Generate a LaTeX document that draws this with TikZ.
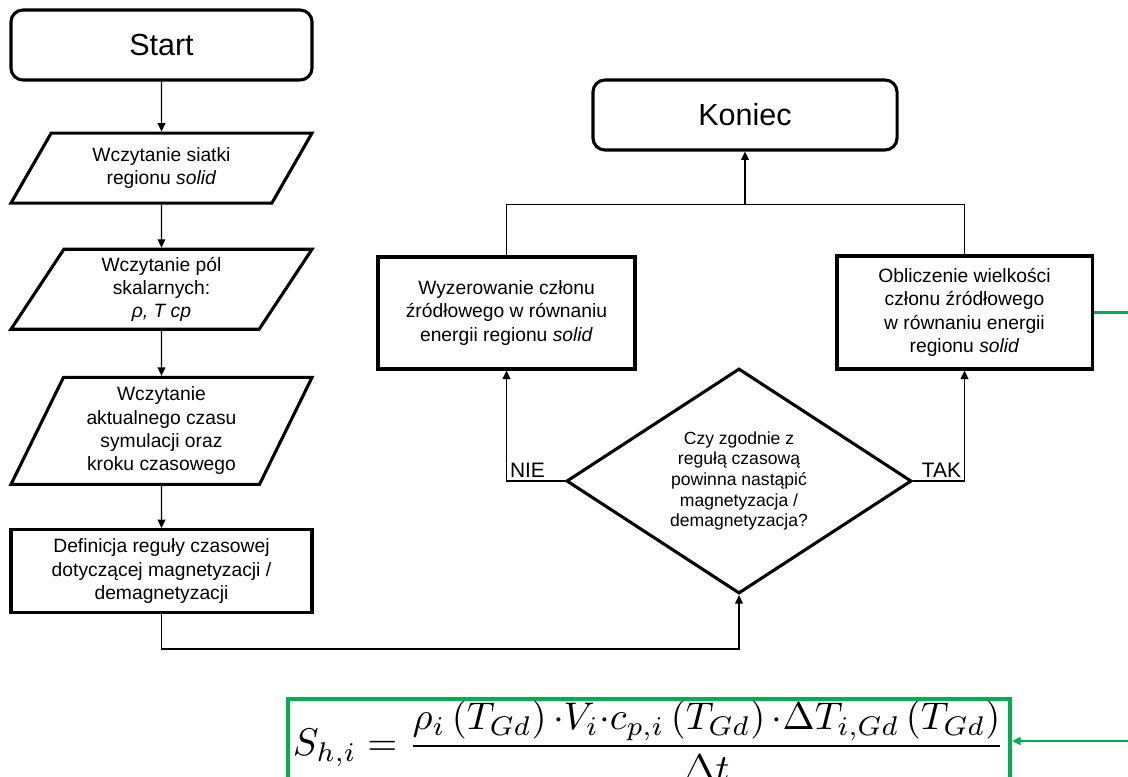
\documentclass[tikz,border=0pt]{standalone}
\usepackage[no-math]{fontspec}
\setmainfont{Liberation Sans}
\usepackage{graphicx}
\usepackage{tikz}
\usetikzlibrary{arrows.meta,positioning,shapes.geometric,calc}
\definecolor{ink}{HTML}{000000}
\definecolor{leaf}{HTML}{00B050}
\tikzset{
  termbox/.style={
    rectangle, rounded corners=0.3cm, draw=ink, line width=2.2pt,
    minimum width=7.525cm, minimum height=1.75cm, align=center,
    font=\fontsize{21.7}{26}\selectfont
  },
  iobox/.style={
    trapezium, trapezium stretches body, draw=ink, line width=2.2pt,
    minimum width=7.525cm, align=center, inner sep=2pt,
    font=\fontsize{13.7}{16.6}\selectfont
  },
  procbox/.style={
    rectangle, draw=ink, line width=2.2pt, align=center, inner sep=2pt,
    font=\fontsize{13.7}{16.6}\selectfont
  },
  decbox/.style={
    diamond, aspect=1.53, draw=ink, line width=2.2pt, align=center,
    inner sep=0pt, minimum width=8.625cm, minimum height=5.625cm,
    font=\fontsize{12.5}{14.7}\selectfont
  },
  formbox/.style={
    rectangle, draw=leaf, line width=2.8pt, inner xsep=0.125cm, inner ysep=1pt
  },
  branchlabel/.style={font=\fontsize{14.9}{17}\selectfont, inner sep=2pt},
  flow/.style={line width=1pt, draw=ink},
  flowarrow/.style={flow, -{Triangle[length=6pt,width=5.5pt]}},
  leafline/.style={line width=1.6pt, draw=leaf},
  leafarrow/.style={leafline, -{Triangle[length=6pt,width=5.5pt]}},
}

\begin{document}
\begin{tikzpicture}[x=0.025cm, y=-0.025cm]
    \useasboundingbox (0,0) rectangle (1128,776);
    % left column
    \node[termbox] (start) at (161.5,45) {Start};
    \node[iobox, below=1.25cm of start, trapezium left angle=49.4, trapezium right angle=130.6, minimum height=1.75cm] (mesh) {Wczytanie siatki\\regionu \textit{solid}};
    \node[iobox, below=1.075cm of mesh, trapezium left angle=53.1, trapezium right angle=126.9, minimum height=2cm] (fields) {Wczytanie pól\\skalarnych:\\\textit{ρ, T cp}};
    \node[iobox, below=1.125cm of fields, trapezium left angle=60.7, trapezium right angle=119.3, minimum height=2.675cm] (clock) {Wczytanie\\aktualnego czasu\\symulacji oraz\\kroku czasowego};
    \node[procbox, below=1.05cm of clock, minimum width=7.525cm, minimum height=2.075cm] (rule) {Definicja reguły czasowej\\dotyczącej magnetyzacji /\\demagnetyzacji};
    % right part
    \node[termbox, minimum width=7.6cm] (stop) at (745,115) {Koniec};
    \node[procbox, minimum width=6.425cm, minimum height=2.8cm] (zero) at (506.5,313) {Wyzerowanie członu\\źródłowego w równaniu\\energii regionu \textit{solid}};
    \node[procbox, minimum width=6.375cm, minimum height=2.825cm] (calc) at (964.5,312.5) {Obliczenie wielkości\\członu źródłowego\\w równaniu energii\\regionu \textit{solid}};
    \node[decbox] (check) at (739,481) {Czy zgodnie z\\regułą czasową\\powinna nastąpić\\magnetyzacja /\\demagnetyzacja?};
    \node[formbox, anchor=north] (formula) at (649,697) {\resizebox{17.8cm}{!}{$\displaystyle S_{h,i} = \frac{\rho_i\left(T_{Gd}\right){\cdot}V_i{\cdot}c_{p,i}\left(T_{Gd}\right){\cdot}\Delta T_{i,Gd}\left(T_{Gd}\right)}{\Delta t}$}};
    \coordinate (join) at ($(stop.south)+(0,53)$);
    \coordinate (rimA) at (1140,313);
    \coordinate (rimB) at (1140,741);
    \draw[flowarrow] (start) -- (mesh);
    \draw[flowarrow] (mesh) -- (fields);
    \draw[flowarrow] (fields) -- (clock);
    \draw[flowarrow] (clock) -- (rule);
    \draw[flowarrow] (rule.south) -- ++(0,35) -| (check.south);
    \draw[flowarrow] (check.west) -| (zero.south) node[pos=0.5, branchlabel, above right] {NIE};
    \draw[flowarrow] (check.east) -| (calc.south) node[pos=0.5, branchlabel, above left] {TAK};
    \draw[flow] (zero.north) |- (join) -| (calc.north);
    \draw[flowarrow] (join) -- (stop.south);
    \draw[leafline] (calc.east) -- (calc.east -| rimA);
    \draw[leafarrow] (rimB) -- (rimB -| formula.east);
\end{tikzpicture}
\end{document}
